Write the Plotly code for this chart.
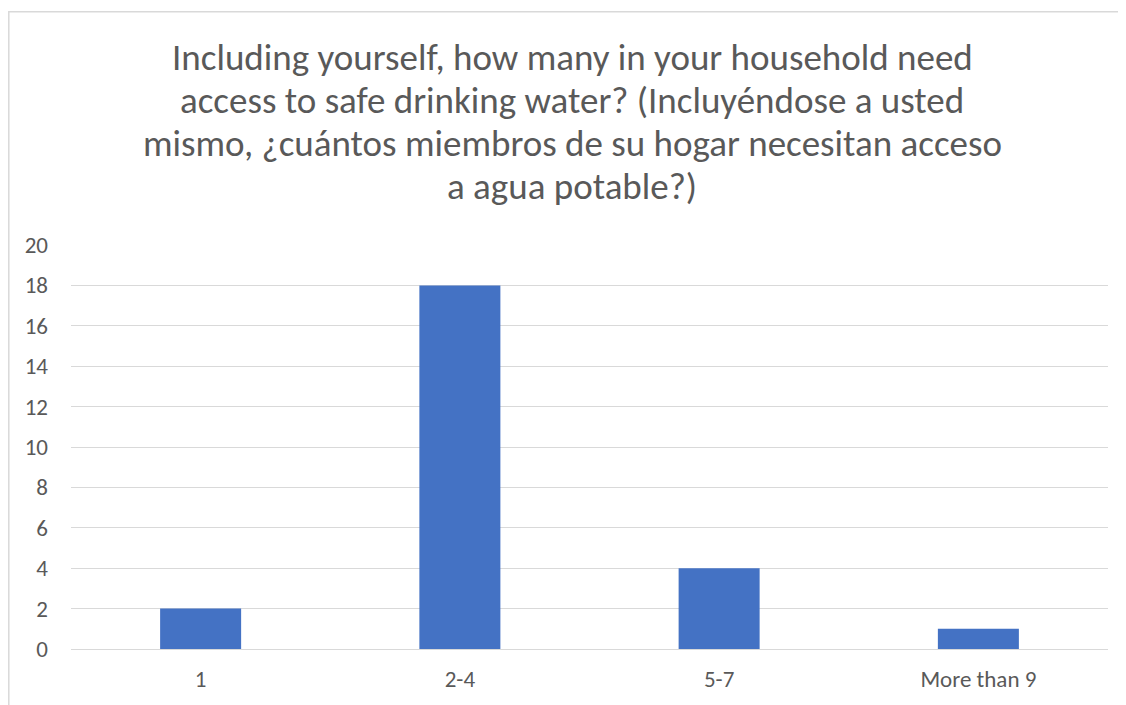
import plotly.graph_objects as go

categories = ["1", "2-4", "5-7", "More than 9"]
values = [2, 18, 4, 1]
title_lines = [
    "Including yourself, how many in your household need",
    "access to safe drinking water? (Incluyéndose a usted",
    "mismo, ¿cuántos miembros de su hogar necesitan acceso",
    "a agua potable?)",
]
y_ticks = list(range(0, 21, 2))

OFF = 8  # page body margin
W, H = 1126 - OFF, 705 - OFF
L, R, T, B = 71 - OFF, 1108 - OFF, 245 - OFF, 652 - OFF
pw, ph = R - L, B - T

def px_x(x):
    return (x - OFF - L) / pw

def px_y(y):
    return (B - (y - OFF)) / ph

FONT = "Carlito, Lato, sans-serif"
GRAY = "#595959"

fig = go.Figure(go.Bar(x=categories, y=values, marker_color="#4472C4",
                       marker_line_width=0))

line_y = [56, 99.5, 143, 186.5]
annotations = [
    dict(text=t, xref="paper", yref="paper", x=px_x(572), y=px_y(yy),
         xanchor="center", yanchor="middle", showarrow=False,
         font=dict(family=FONT, size=37, color=GRAY))
    for t, yy in zip(title_lines, line_y)
]

fig.update_layout(
    width=W, height=H,
    margin=dict(l=L, r=W - R, t=T, b=H - B, pad=0),
    paper_bgcolor="white", plot_bgcolor="white",
    showlegend=False,
    bargap=0.6875,
    annotations=annotations,
    shapes=[dict(type="rect", xref="paper", yref="paper",
                 x0=px_x(8.8), x1=px_x(1140), y0=px_y(10), y1=px_y(730),
                 line=dict(color="#d9d9d9", width=1.5), fillcolor="rgba(0,0,0,0)",
                 layer="below")],
    xaxis=dict(showgrid=False, showline=False, ticks="",
               tickfont=dict(family=FONT, size=23, color=GRAY),
               ticklabelstandoff=14, fixedrange=True),
    yaxis=dict(range=[0, 20], tickvals=y_ticks, showgrid=True,
               gridcolor="#d9d9d9", gridwidth=1, zeroline=True,
               zerolinecolor="#d9d9d9", zerolinewidth=1, showline=False,
               ticks="", tickfont=dict(family=FONT, size=23, color=GRAY),
               ticklabelstandoff=22),
)

fig.write_html("out.html")
